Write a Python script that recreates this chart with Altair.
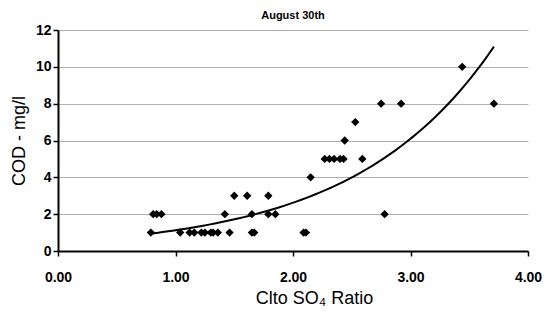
import altair as alt
import numpy as np
import pandas as pd

ratio = [0.79, 1.04, 1.12, 1.16, 1.22, 1.25, 1.30, 1.32, 1.36, 1.46, 1.65, 1.67, 2.09, 2.11,
         0.81, 0.84, 0.88, 1.42, 1.65, 1.79, 1.85, 2.78,
         1.50, 1.61, 1.79,
         2.15,
         2.27, 2.31, 2.35, 2.40, 2.43, 2.59,
         2.44,
         2.53,
         2.75, 2.92, 3.71,
         3.44]
cod = [1, 1, 1, 1, 1, 1, 1, 1, 1, 1, 1, 1, 1, 1,
       2, 2, 2, 2, 2, 2, 2, 2,
       3, 3, 3,
       4,
       5, 5, 5, 5, 5, 5,
       6,
       7,
       8, 8, 8,
       10]

df = pd.DataFrame({"ratio": ratio, "cod": cod})

# Exponential trendline (least squares on log(COD)), drawn over the data's range
b, ln_a = np.polyfit(np.array(ratio), np.log(np.array(cod, dtype=float)), 1)
tx = np.linspace(min(ratio), max(ratio), 60)
trend_df = pd.DataFrame({"ratio": tx, "cod": np.exp(ln_a + b * tx)})

FONT = "Liberation Sans"

x = alt.X("ratio:Q", scale=alt.Scale(domain=[0, 4], nice=False),
          axis=alt.Axis(title="Clto SO₄ Ratio", values=[0, 1, 2, 3, 4], format=".2f",
                        grid=False, domainColor="black", domainWidth=2,
                        tickColor="black", tickSize=5, tickWidth=1.5,
                        labelFlush=False,
                        labelFont=FONT, labelFontWeight="bold", labelFontSize=14,
                        labelColor="black", labelPadding=14,
                        titleFont=FONT, titleFontWeight="normal", titleFontSize=18,
                        titleColor="black", titlePadding=5, titleX=256))
y = alt.Y("cod:Q", scale=alt.Scale(domain=[0, 12], nice=False),
          axis=alt.Axis(title="COD - mg/l", values=[0, 2, 4, 6, 8, 10, 12],
                        gridColor="#b0b0b0", gridWidth=1,
                        domainColor="black", domainWidth=2,
                        tickColor="black", tickSize=5, tickWidth=1.5,
                        labelFlush=False,
                        labelFont=FONT, labelFontWeight="bold", labelFontSize=14,
                        labelColor="black", labelPadding=2,
                        titleFont=FONT, titleFontWeight="normal", titleFontSize=18,
                        titleColor="black", titlePadding=7))

points = alt.Chart(df).mark_point(shape="diamond", filled=True, color="black",
                                  size=70, opacity=1).encode(x=x, y=y)
trend = alt.Chart(trend_df).mark_line(color="black", strokeWidth=2).encode(x=x, y=y)

chart = (trend + points).properties(
    width=470, height=221,
    title=alt.TitleParams("August 30th", font=FONT, fontSize=11, fontWeight="bold",
                          color="black", offset=2),
    autosize=alt.AutoSizeParams(type="none"),
    padding={"left": 50, "top": 22, "right": 16, "bottom": 60},
).configure_view(stroke=None)

chart.save("out.html", embed_options={"renderer": "svg", "actions": False})
